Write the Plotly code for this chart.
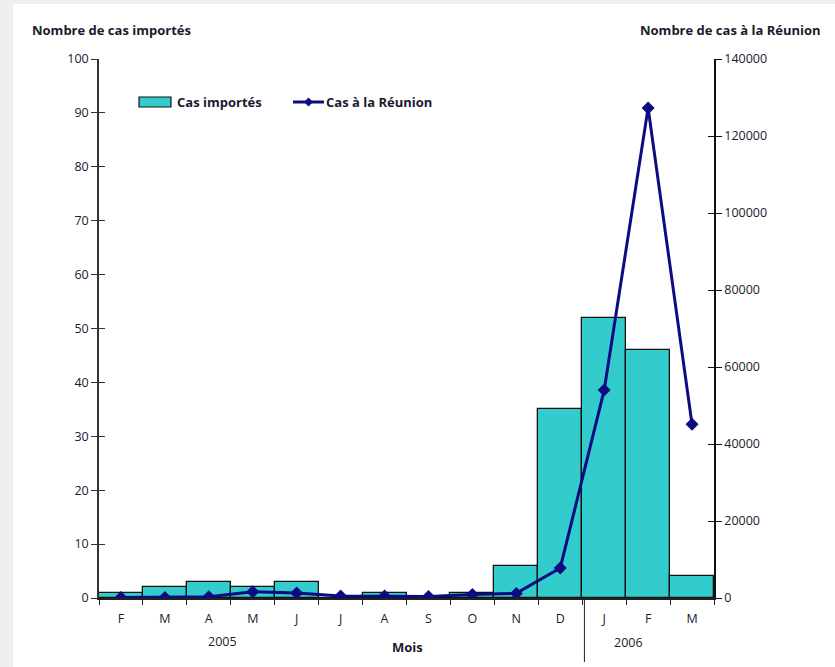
import plotly.graph_objects as go

months = ["F", "M", "A", "M ", "J", "J ", "A ", "S", "O", "N", "D", "J  ", "F ", "M  "]
month_labels = ["F", "M", "A", "M", "J", "J", "A", "S", "O", "N", "D", "J", "F", "M"]
imported = [1, 2, 3, 2, 3, 0, 1, 0, 1, 6, 35, 52, 46, 4]
reunion = [100, 150, 300, 1600, 1300, 500, 500, 400, 900, 1200, 7800, 54000, 127300, 45100]

FONT = "Open Sans"
TXT = "#1a1a2e"
NAVY = "#0c0c80"
TEAL = "#33CCCC"

fig = go.Figure()
fig.add_trace(go.Bar(
    x=months, y=imported, name="Cas importés",
    marker=dict(color=TEAL, line=dict(color="#111", width=1.3)),
    width=1, yaxis="y", showlegend=False,
))
fig.add_trace(go.Scatter(
    x=months, y=reunion, name="Cas à la Réunion", yaxis="y2",
    mode="lines+markers", showlegend=False,
    line=dict(color=NAVY, width=3),
    marker=dict(symbol="diamond", size=10, color=NAVY),
))

L, R, T, B = 99, 121, 59, 69
W, H = 835, 667
pw, ph = W - L - R, H - T - B

def px(x):
    return (x - L) / pw

def py(y):
    return (H - B - y) / ph

fig.update_layout(
    width=W, height=H,
    margin=dict(l=L, r=R, t=T, b=B, pad=0),
    paper_bgcolor="#efefef", plot_bgcolor="white",
    bargap=0,
    font=dict(family=FONT, size=12, color=TXT),
    showlegend=False,
    xaxis=dict(
        type="category", tickmode="array", tickvals=months, ticktext=month_labels,
        range=[-0.5, 13.5], showline=True, linecolor="#222", linewidth=1.5,
        ticks="outside", tickson="boundaries", ticklen=5, tickcolor="#222",
        ticklabelstandoff=8,
        showgrid=False, zeroline=False, tickfont=dict(size=12.5),
    ),
    yaxis=dict(
        range=[0, 100], dtick=10, showline=True, linecolor="#333", linewidth=1.5,
        ticks="outside", ticklen=6, tickcolor="#333", showgrid=False, zeroline=False,
        tickfont=dict(size=12.5),
    ),
    yaxis3=dict(
        range=[0, 100], dtick=10, overlaying="y", side="left", showline=False,
        ticks="inside", ticklen=6, tickcolor="#333", showticklabels=False,
        showgrid=False, zeroline=False,
    ),
    yaxis2=dict(
        range=[0, 140000], dtick=20000, tickformat="d", overlaying="y", side="right",
        showline=True, linecolor="#111", linewidth=1.5,
        ticks="outside", ticklen=6, tickcolor="#111", showgrid=False, zeroline=False,
        tickfont=dict(size=12.5),
    ),
    yaxis4=dict(
        range=[0, 140000], dtick=20000, overlaying="y", side="right", showline=False,
        ticks="inside", ticklen=6, tickcolor="#111", showticklabels=False,
        showgrid=False, zeroline=False,
    ),
)

fig.add_trace(go.Scatter(x=[months[0]], y=[0], yaxis="y3", showlegend=False,
                         mode="markers", marker=dict(opacity=0), hoverinfo="skip"))
fig.add_trace(go.Scatter(x=[months[0]], y=[0], yaxis="y4", showlegend=False,
                         mode="markers", marker=dict(opacity=0), hoverinfo="skip"))

# white page area
fig.add_shape(type="rect", xref="paper", yref="paper",
              x0=px(13), x1=px(W + 5), y0=py(4), y1=py(H + 5),
              fillcolor="white", line=dict(width=0), layer="below")

# year separator
fig.add_shape(type="line", xref="x", yref="paper", x0=10.55, x1=10.55,
              y0=py(600), y1=py(662), line=dict(color="#222", width=1))

# legend (drawn)
fig.add_shape(type="rect", xref="paper", yref="paper",
              x0=px(139), x1=px(171), y0=py(107), y1=py(97),
              fillcolor=TEAL, line=dict(color="#111", width=1.2))
fig.add_shape(type="line", xref="paper", yref="paper",
              x0=px(293), x1=px(324), y0=py(102), y1=py(102),
              line=dict(color=NAVY, width=3))
cx, cy, dx, dy = px(308.5), py(102), 4.5 / pw, 4.5 / ph
fig.add_shape(type="path", xref="paper", yref="paper",
              path=f"M {cx-dx} {cy} L {cx} {cy+dy} L {cx+dx} {cy} L {cx} {cy-dy} Z",
              fillcolor=NAVY, line=dict(color=NAVY, width=0))

annots = [
    dict(text="Nombre de cas importés", x=px(30), y=py(30), xanchor="left", bold=True),
    dict(text="Nombre de cas à la Réunion", x=px(823), y=py(30), xanchor="right", bold=True),
    dict(text="Cas importés", x=px(175), y=py(102), xanchor="left", bold=True),
    dict(text="Cas à la Réunion", x=px(324), y=py(102), xanchor="left", bold=True),
    dict(text="2005", x=px(222), y=py(641), xanchor="center", bold=False),
    dict(text="Mois", x=px(407), y=py(647), xanchor="center", bold=True),
    dict(text="2006", x=px(628), y=py(642), xanchor="center", bold=False),
]
for a in annots:
    fig.add_annotation(
        text=a["text"], x=a["x"], y=a["y"], xref="paper", yref="paper",
        xanchor=a["xanchor"], yanchor="middle", showarrow=False,
        font=dict(size=13 if a["bold"] else 12.5, weight="bold" if a["bold"] else "normal", color=TXT),
    )

fig.write_html("out.html", config={"displayModeBar": False},
               post_script="document.body.style.margin='0';")
